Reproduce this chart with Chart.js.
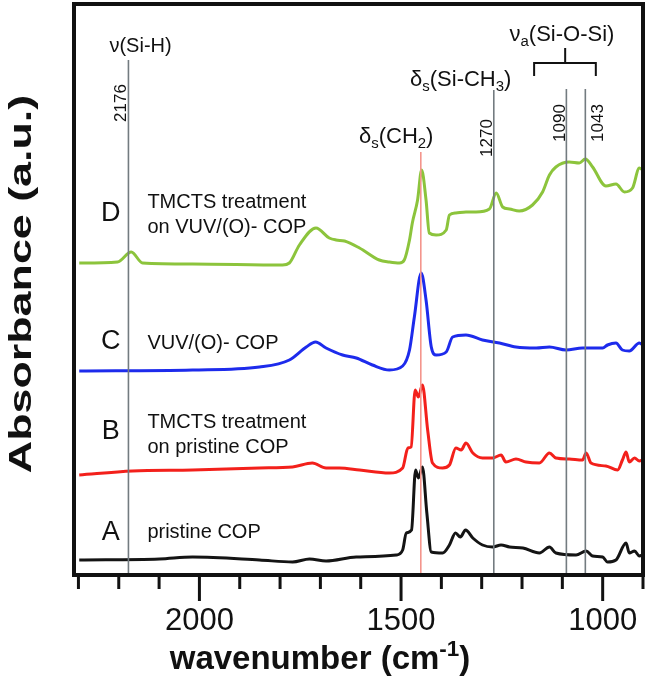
<!DOCTYPE html>
<html>
<head>
<meta charset="utf-8">
<script src="https://cdn.jsdelivr.net/npm/chart.js@4.4.1/dist/chart.umd.min.js"></script>
<style>
  html, body { margin: 0; padding: 0; background: #fff; }
</style>
</head>
<body>
<canvas id="myChart" width="651" height="693"></canvas>
<script>
// spectra, offset vertically (a.u.), wavenumber in cm-1
const waveD = [2298,2203,2169,2141,2017,1794,1777,1752,1711,1678,1661,1640,1603,1554,1529,1504,1492,1479,1472,1459,1449,1438,1430,1413,1388,1380,1364,1339,1314,1281,1264,1248,1231,1207,1174,1149,1132,1116,1083,1058,1043,1025,992,967,946,926,909,901];
const absD  = [3.12,3.13,3.23,3.12,3.11,3.10,3.12,3.30,3.47,3.37,3.35,3.34,3.27,3.15,3.13,3.12,3.15,3.35,3.52,3.75,4.05,3.75,3.42,3.40,3.45,3.60,3.62,3.63,3.63,3.66,3.82,3.68,3.66,3.64,3.70,3.83,4.00,4.08,4.13,4.12,4.16,4.08,3.89,3.91,3.83,3.87,4.07,4.05];

const waveC = [2298,2017,1851,1777,1735,1712,1686,1645,1611,1571,1529,1496,1479,1467,1450,1438,1425,1413,1388,1372,1339,1298,1256,1215,1165,1132,1091,1050,1000,988,967,951,934,909,901];
const absC  = [2.04,2.05,2.08,2.15,2.28,2.33,2.27,2.20,2.17,2.10,2.05,2.09,2.25,2.58,3.02,2.75,2.28,2.20,2.23,2.38,2.40,2.35,2.32,2.28,2.27,2.28,2.25,2.27,2.27,2.30,2.32,2.25,2.24,2.32,2.30];

const waveB = [2298,2166,2017,1851,1769,1720,1686,1653,1603,1529,1496,1483,1475,1465,1457,1447,1434,1422,1397,1380,1364,1351,1339,1322,1298,1273,1252,1240,1215,1190,1157,1132,1116,1083,1050,1041,1029,992,963,951,942,934,921,909,901];
const absB  = [1.00,1.04,1.05,1.07,1.08,1.12,1.07,1.07,1.05,1.02,1.07,1.27,1.28,1.85,1.78,1.90,1.45,1.12,1.07,1.10,1.27,1.25,1.32,1.22,1.17,1.17,1.20,1.13,1.16,1.13,1.12,1.22,1.17,1.16,1.15,1.22,1.12,1.09,1.05,1.15,1.23,1.13,1.17,1.14,1.15];

const waveA = [2298,2099,2017,1851,1769,1727,1686,1611,1512,1496,1487,1474,1464,1457,1447,1436,1425,1397,1380,1365,1353,1340,1322,1298,1273,1252,1231,1198,1157,1132,1116,1066,1041,1025,1000,988,967,942,934,921,909,901];
const absA  = [0.15,0.16,0.18,0.15,0.13,0.16,0.14,0.18,0.20,0.25,0.42,0.45,1.05,0.97,1.08,0.62,0.23,0.22,0.30,0.42,0.38,0.45,0.37,0.30,0.28,0.30,0.28,0.27,0.22,0.28,0.22,0.20,0.24,0.19,0.18,0.13,0.15,0.32,0.22,0.24,0.19,0.20];

// marker lines
const markerWave = [2176, 1270, 1090, 1043];
const markerTop  = [5.15, 4.85, 4.86, 4.86];
const ch2Wave = 1451;
const ch2Top  = 4.23;

const traceLetters = ['D', 'C', 'B', 'A'];
const traceNotes = [
  ['TMCTS treatment', 'on VUV/(O)- COP'],
  ['VUV/(O)- COP'],
  ['TMCTS treatment', 'on pristine COP'],
  ['pristine COP']
];

const xMin = 900, xMax = 2311;
const yMin = 0, yMax = 5.71;

const toPts = (w, a) => w.map((v, i) => ({ x: v, y: a[i] }));

const traceDatasets = [
  { label: 'D', data: toPts(waveD, absD), borderColor: '#8cc43c' },
  { label: 'C', data: toPts(waveC, absC), borderColor: '#1d2bec' },
  { label: 'B', data: toPts(waveB, absB), borderColor: '#f3201b' },
  { label: 'A', data: toPts(waveA, absA), borderColor: '#141414' }
].map(d => ({ ...d, borderWidth: 3, pointRadius: 0, cubicInterpolationMode: 'monotone', order: 2 }));

const markerDatasets = markerWave.map((w, i) => ({
  label: 'm' + w,
  data: [{ x: w, y: yMin }, { x: w, y: markerTop[i] }],
  borderColor: '#737b80', borderWidth: 1.6, pointRadius: 0, order: 1
}));
markerDatasets.push({
  label: 'ch2',
  data: [{ x: ch2Wave, y: yMin }, { x: ch2Wave, y: ch2Top }],
  borderColor: '#f4958c', borderWidth: 1.6, pointRadius: 0, order: 1
});

const FONT = '"Liberation Sans", Arial, Helvetica, sans-serif';

// draws text runs with sub/superscripts, centred or left aligned on (x, y middle)
function drawRich(ctx, parts, x, y, size, align, bold) {
  const w = bold ? 'bold ' : '';
  let total = 0;
  const runs = parts.map(([t, k]) => {
    const s = k ? size * 0.68 : size;
    ctx.font = w + s + 'px ' + FONT;
    const wd = ctx.measureText(t).width;
    total += wd;
    return { t, k, s, wd };
  });
  let cx = align === 'center' ? x - total / 2 : x;
  const base = y + size * 0.36;
  ctx.textAlign = 'left';
  ctx.textBaseline = 'alphabetic';
  runs.forEach(r => {
    ctx.font = w + r.s + 'px ' + FONT;
    let by = base;
    if (r.k === 1) by += size * 0.22;
    if (r.k === 2) by -= size * 0.38;
    ctx.fillText(r.t, cx, by);
    cx += r.wd;
  });
}

const decor = {
  id: 'decor',
  afterDraw(chart, args, o) {
    const { ctx, chartArea: a, scales: { x, y } } = chart;
    ctx.save();
    ctx.fillStyle = '#111';
    ctx.strokeStyle = '#111';

    // frame
    ctx.lineWidth = 4;
    ctx.strokeRect(a.left, a.top, a.right - a.left, a.bottom - a.top);

    // tick marks
    ctx.lineWidth = 3;
    x.ticks.forEach(t => {
      const px = x.getPixelForValue(t.value);
      const len = t.value % 500 === 0 ? 26 : 14;
      ctx.beginPath();
      ctx.moveTo(px, a.bottom + 2);
      ctx.lineTo(px, a.bottom + len);
      ctx.stroke();
    });

    // bracket over the Si-O-Si lines
    const bL = x.getPixelForValue(o.bracket.from), bR = x.getPixelForValue(o.bracket.to);
    const bM = x.getPixelForValue(o.bracket.mid);
    const bY = y.getPixelForValue(o.bracket.y), bE = y.getPixelForValue(o.bracket.yEnd);
    const bT = y.getPixelForValue(o.bracket.yTop);
    ctx.lineWidth = 2;
    ctx.beginPath();
    ctx.moveTo(bL, bE); ctx.lineTo(bL, bY); ctx.lineTo(bR, bY); ctx.lineTo(bR, bE);
    ctx.moveTo(bM, bY); ctx.lineTo(bM, bT);
    ctx.stroke();

    // band labels
    o.bands.forEach(b => {
      drawRich(ctx, b.parts, x.getPixelForValue(b.x), y.getPixelForValue(b.y), b.size, 'center', false);
    });

    // rotated wavenumbers
    ctx.font = '17px ' + FONT;
    ctx.textAlign = 'center';
    ctx.textBaseline = 'middle';
    o.numbers.forEach(n => {
      ctx.save();
      ctx.translate(x.getPixelForValue(n.x), y.getPixelForValue(n.y));
      ctx.rotate(-Math.PI / 2);
      ctx.fillText(n.text, 0, 0);
      ctx.restore();
    });

    // trace letters and notes
    traceLetters.forEach((L, i) => {
      ctx.font = '27px ' + FONT;
      ctx.textAlign = 'center';
      ctx.textBaseline = 'middle';
      ctx.fillText(L, x.getPixelForValue(o.letterX), y.getPixelForValue(o.letterY[i]));
      ctx.font = '20px ' + FONT;
      ctx.textAlign = 'left';
      traceNotes[i].forEach((line, j) => {
        ctx.fillText(line, x.getPixelForValue(o.noteX), y.getPixelForValue(o.noteY[i] - j * 0.25));
      });
    });

    // axis titles
    ctx.save();
    ctx.translate(22, a.top + 280);
    ctx.rotate(-Math.PI / 2);
    ctx.scale(1.4, 1);
    ctx.font = 'bold 32px ' + FONT;
    ctx.textAlign = 'center';
    ctx.textBaseline = 'middle';
    ctx.fillText('Absorbance (a.u.)', 0, 0);
    ctx.restore();

    drawRich(ctx, [['wavenumber (cm', 0], ['-1', 2], [')', 0]], a.left + 246, a.bottom + 82, 33, 'center', true);
    ctx.restore();
  }
};

new Chart('myChart', {
  type: 'line',
  data: { datasets: [...markerDatasets, ...traceDatasets] },
  options: {
    responsive: false,
    animation: false,
    layout: { padding: { left: 74, right: 8, top: 4, bottom: 0 } },
    plugins: {
      legend: { display: false },
      tooltip: { enabled: false },
      decor: {
        letterX: 2220, letterY: [3.61, 2.33, 1.43, 0.42],
        noteX: 2129, noteY: [3.73, 2.32, 1.53, 0.43],
        bracket: { from: 1170, to: 1017, mid: 1093, y: 5.12, yEnd: 4.99, yTop: 5.27 },
        bands: [
          { parts: [['ν(Si-H)', 0]], x: 2146, y: 5.30, size: 20 },
          { parts: [['δ', 0], ['s', 1], ['(Si-CH', 0], ['3', 1], [')', 0]], x: 1352, y: 4.97, size: 22 },
          { parts: [['ν', 0], ['a', 1], ['(Si-O-Si)', 0]], x: 1101, y: 5.42, size: 22 },
          { parts: [['δ', 0], ['s', 1], ['(CH', 0], ['2', 1], [')', 0]], x: 1512, y: 4.40, size: 22 }
        ],
        numbers: [
          { text: '2176', x: 2193, y: 4.72 },
          { text: '1270', x: 1285, y: 4.37 },
          { text: '1090', x: 1106, y: 4.52 },
          { text: '1043', x: 1010, y: 4.52 }
        ]
      }
    },
    scales: {
      x: {
        type: 'linear',
        reverse: true,
        min: xMin,
        max: xMax,
        afterFit: s => { s.height = 118; s.paddingLeft = 0; s.paddingRight = 0; },
        grid: { display: false, drawTicks: false },
        border: { display: false },
        ticks: {
          stepSize: 100,
          includeBounds: false,
          autoSkip: false,
          maxRotation: 0,
          padding: 28,
          color: '#111',
          font: { family: FONT, size: 31 },
          callback: v => (v % 500 === 0 ? String(v) : '')
        }
      },
      y: {
        display: false,
        min: yMin,
        max: yMax
      }
    }
  },
  plugins: [decor]
});
</script>
</body>
</html>
